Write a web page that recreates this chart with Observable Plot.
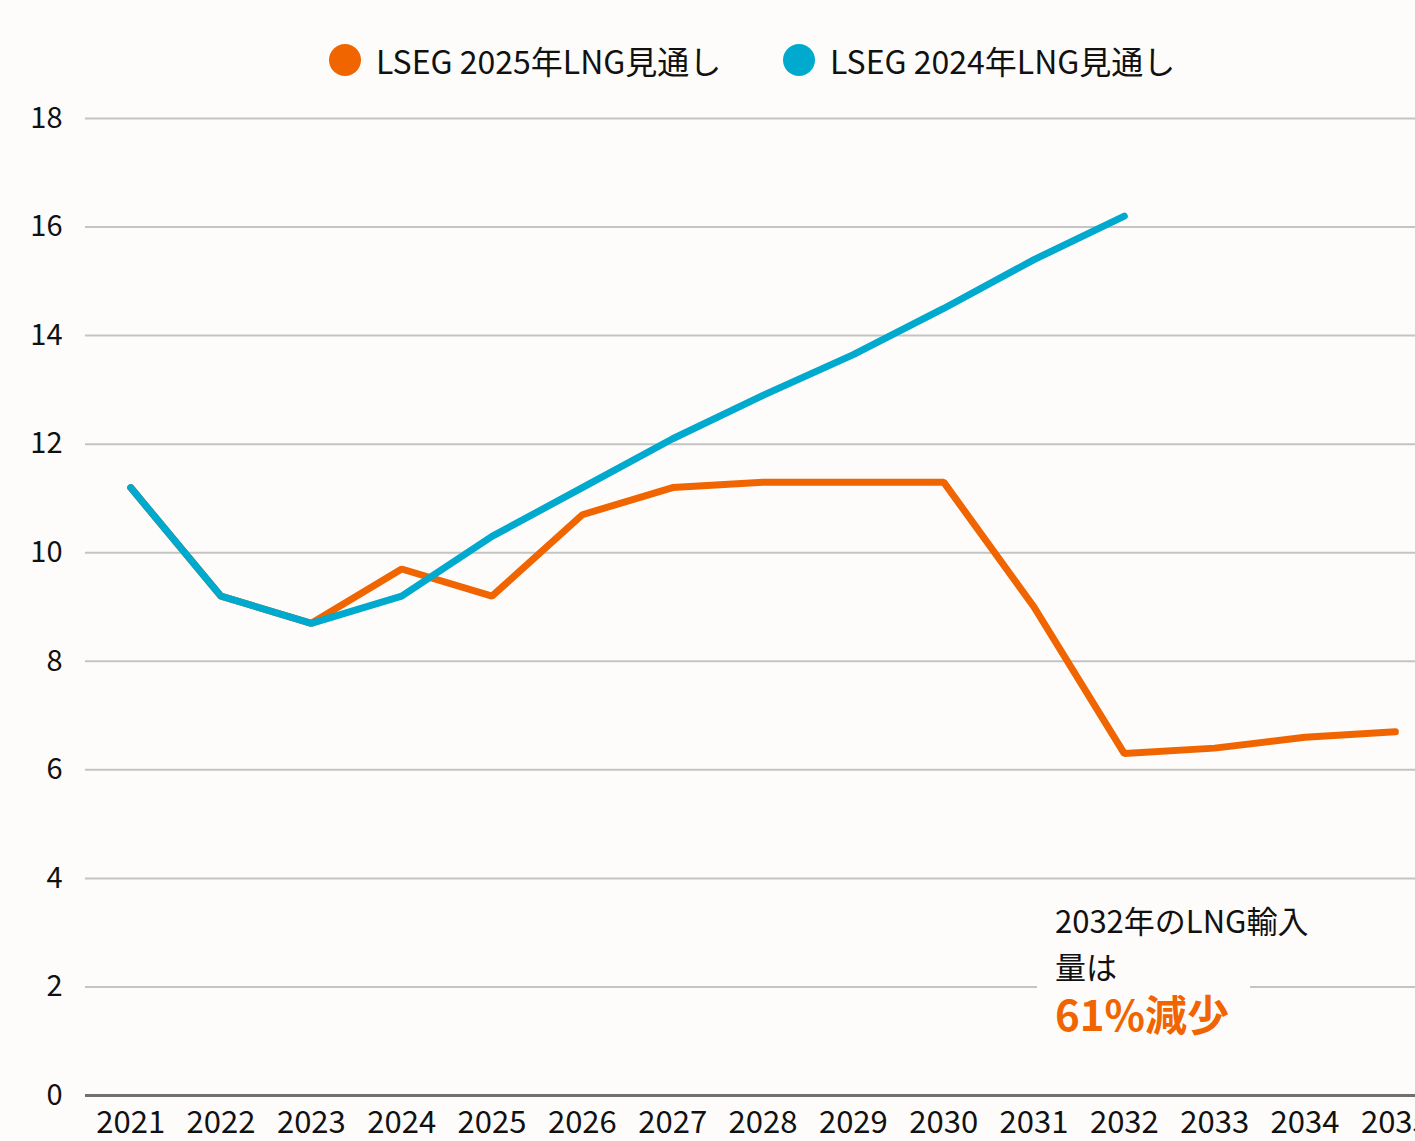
<!DOCTYPE html>
<html><head><meta charset="utf-8">
<script src="https://cdn.jsdelivr.net/npm/d3@7"></script>
<script src="https://cdn.jsdelivr.net/npm/@observablehq/plot@0.6"></script>
<style>
html,body{margin:0;padding:0;background:#fdfcfa;overflow:hidden;}
#wrap{position:relative;width:1415px;height:1141px;overflow:hidden;font-family:"Noto Sans CJK JP","Noto Sans",sans-serif;background:#fdfcfa;}
#legend{height:100px;position:relative;}
.item{position:absolute;top:37px;display:flex;align-items:center;font-size:32px;color:#111;white-space:nowrap;}
.dot{width:32px;height:32px;border-radius:50%;margin-right:15px;}
#note{position:absolute;left:1037px;top:897px;width:195px;padding-left:18px;background:#fdfcfa;color:#111;font-size:31px;line-height:46px;white-space:nowrap;}
#note .big{color:#f06500;font-weight:bold;font-size:42px;line-height:48px;}
</style></head>
<body>
<div id="wrap">
  <div id="legend"></div>
  <div id="chart"></div>
  <div id="note"></div>
</div>
<script>
const years = [2021,2022,2023,2024,2025,2026,2027,2028,2029,2030,2031,2032,2033,2034,2035];
const outlook2025 = [11.2,9.2,8.7,9.7,9.2,10.7,11.2,11.3,11.3,11.3,9.0,6.3,6.4,6.6,6.7];
const outlook2024 = [11.2,9.2,8.7,9.2,10.3,11.2,12.1,12.9,13.65,14.5,15.4,16.2,null,null,null];
const seriesNames = ["LSEG 2025年LNG見通し","LSEG 2024年LNG見通し"];
const seriesColors = ["#f06500","#00a9ce"];
const yTicks = [0,2,4,6,8,10,12,14,16,18];
const noteLines = ["2032年のLNG輸入","量は"];
const noteHighlight = "61%減少";

const legend = document.getElementById("legend");
const lefts = [329,783];
seriesNames.forEach((n,i)=>{
  const it = document.createElement("div");
  it.className="item"; it.style.left=lefts[i]+"px";
  const d=document.createElement("span"); d.className="dot"; d.style.background=seriesColors[i];
  const t=document.createElement("span"); t.textContent=n;
  it.appendChild(d); it.appendChild(t); legend.appendChild(it);
});

const rows = [];
years.forEach((y,i)=>{
  rows.push({year:y, value:outlook2025[i], s:seriesNames[0]});
  if (outlook2024[i]!=null) rows.push({year:y, value:outlook2024[i], s:seriesNames[1]});
});

const chart = Plot.plot({
  width:1440, height:1041,
  marginLeft:85, marginRight:0, marginTop:18, marginBottom:46,
  style:{background:"transparent", fontFamily:'"Noto Sans CJK JP","Noto Sans",sans-serif', fontSize:"29px", color:"#111", maxWidth:"none", overflow:"visible"},
  x:{type:"linear", domain:[2020.5,2035.5], ticks:years, tickFormat:d=>String(d), tickSize:0, tickPadding:15, label:null},
  y:{domain:[0,18], ticks:yTicks, tickSize:0, tickPadding:23, label:null},
  color:{domain:seriesNames, range:seriesColors},
  marks:[
    Plot.gridY(yTicks.filter(d=>d>0), {stroke:"#c4c4c4", strokeOpacity:1, strokeWidth:2}),
    Plot.ruleY([0], {stroke:"#707070", strokeWidth:3}),
    Plot.axisY({ticks:yTicks, tickSize:0, tickPadding:23, fontSize:29, textAnchor:"end"}),
    Plot.axisX({ticks:years, tickFormat:d=>String(d), tickSize:0, tickPadding:15, fontSize:31}),
    Plot.lineY(rows.filter(r=>r.s===seriesNames[0]), {x:"year", y:"value", stroke:"s", strokeWidth:7, strokeLinejoin:"miter", strokeLinecap:"round"}),
    Plot.lineY(rows.filter(r=>r.s===seriesNames[1]), {x:"year", y:"value", stroke:"s", strokeWidth:7, strokeLinejoin:"miter", strokeLinecap:"round"})
  ]
});
document.getElementById("chart").appendChild(chart);

const note = document.getElementById("note");
noteLines.forEach(l=>{const d=document.createElement("div"); d.textContent=l; note.appendChild(d);});
const b=document.createElement("div"); b.className="big"; b.textContent=noteHighlight; note.appendChild(b);
</script>
</body></html>
